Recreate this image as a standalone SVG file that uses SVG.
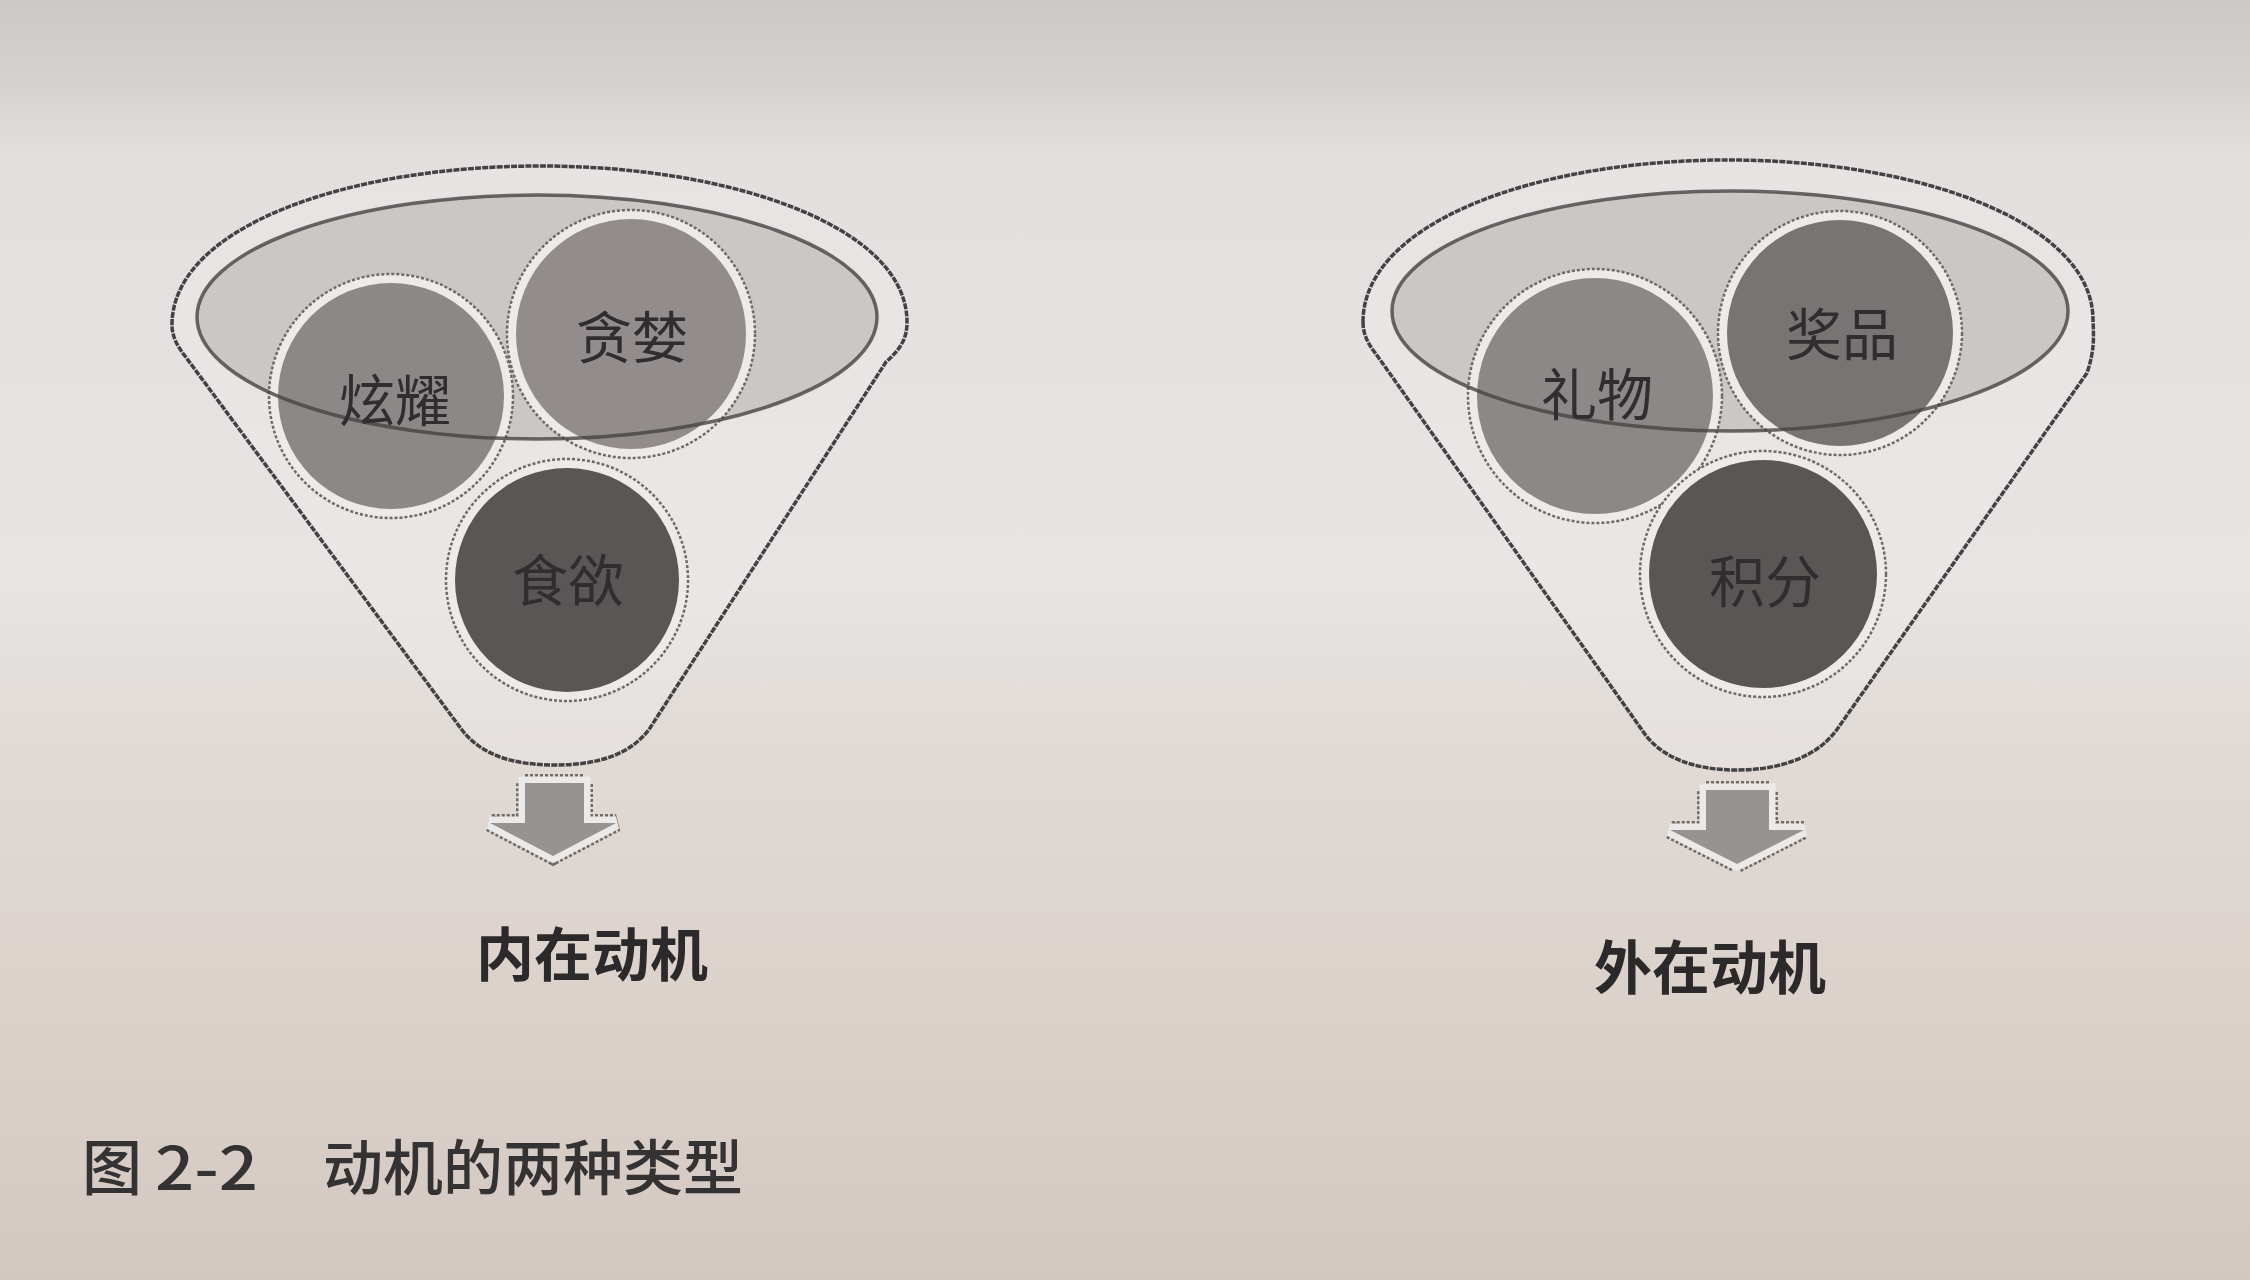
<svg xmlns="http://www.w3.org/2000/svg" width="2250" height="1280" viewBox="0 0 2250 1280">
  <defs>
    <linearGradient id="paper" x1="0" y1="0" x2="0" y2="1">
      <stop offset="0" stop-color="#cbc9c8"/>
      <stop offset="0.07" stop-color="#d5d3d2"/>
      <stop offset="0.12" stop-color="#e2e0de"/>
      <stop offset="0.45" stop-color="#e7e5e3"/>
      <stop offset="0.6" stop-color="#e0d9d4"/>
      <stop offset="0.8" stop-color="#dbd1cb"/>
      <stop offset="1" stop-color="#d3c8c1"/>
    </linearGradient>
    <style>
      .funnel { fill: #eeecea; fill-opacity: 0.4; stroke: #434141; stroke-width: 3.5; stroke-dasharray: 6 1.2; }
      .ell-fill { fill: #cac7c5; stroke: none; }
      .ell-line { fill: none; stroke: #464444; stroke-width: 3.5; stroke-opacity: 0.8; }
      .halo { fill: #edebe9; stroke: #6e6a6a; stroke-width: 2.5; stroke-dasharray: 3 2; }
      .c1 { fill: #8c8887; }
      .c2 { fill: #928c8c; }
      .c3 { fill: #5a5656; }
      .c4 { fill: #787474; }
      .lbl { font-family: "Noto Sans CJK SC", "Noto Sans", sans-serif; fill: #2f2d2d; font-size: 56px; text-anchor: middle; }
      .title { font-family: "Noto Sans CJK SC", "Noto Sans", sans-serif; fill: #2b2929; font-size: 58px; font-weight: bold; text-anchor: middle; }
      .cap { font-family: "Noto Sans CJK SC", "Noto Sans", sans-serif; fill: #343232; font-size: 60px; font-weight: 500; }
      .arr-edge { fill: none; stroke: #706c6c; stroke-width: 18; stroke-dasharray: 3 2; stroke-linejoin: miter; }
      .arr-gap { fill: none; stroke: #eceae8; stroke-width: 13; stroke-linejoin: miter; }
      .arr-fill { fill: #979393; stroke: none; }
    </style>
  </defs>

  <rect x="0" y="0" width="2250" height="1280" fill="url(#paper)"/>

  <!-- Left funnel: 内在动机 -->
  <g id="funnel-intrinsic">
    <path class="funnel" d="M 172,325 C 172,228 345,166 540,166 C 735,166 907,228 907,322 C 907,336 903,347 886,362 L 650,728 C 630,756 595,765 555,765 C 515,765 482,756 462,730 L 185,356 C 177,346 172,336 172,325 Z"/>
    <ellipse class="ell-fill" cx="537" cy="317" rx="340" ry="122"/>
  </g>
  <g id="node-xuanyao">
    <circle class="halo" cx="391" cy="396" r="122"/>
    <circle class="c1" cx="391" cy="396" r="113"/>
  </g>
  <g id="node-tanlan">
    <circle class="halo" cx="631" cy="334" r="124"/>
    <circle class="c2" cx="631" cy="334" r="115"/>
  </g>
  <g id="node-shiyu">
    <circle class="halo" cx="567" cy="580" r="121"/>
    <circle class="c3" cx="567" cy="580" r="112"/>
  </g>
  <ellipse class="ell-line" cx="537" cy="317" rx="340" ry="122"/>
  <text class="lbl" x="395" y="421">炫耀</text>
  <text class="lbl" x="632" y="358">贪婪</text>
  <text class="lbl" x="568" y="601">食欲</text>

  <!-- Right funnel: 外在动机 -->
  <g id="funnel-extrinsic">
    <path class="funnel" d="M 1363,322 C 1363,224 1533,160 1728,160 C 1923,160 2093,224 2093,320 C 2094,340 2094,352 2087,373 L 1838,728 C 1818,757 1780,770 1737,770 C 1695,770 1660,758 1642,730 L 1376,354 C 1368,344 1363,334 1363,322 Z"/>
    <ellipse class="ell-fill" cx="1730" cy="311" rx="338" ry="120"/>
  </g>
  <g id="node-liwu">
    <circle class="halo" cx="1595" cy="396" r="127"/>
    <circle class="c1" cx="1595" cy="396" r="118"/>
  </g>
  <g id="node-jiangpin">
    <circle class="halo" cx="1840" cy="333" r="122"/>
    <circle class="c4" cx="1840" cy="333" r="113"/>
  </g>
  <g id="node-jifen">
    <circle class="halo" cx="1763" cy="574" r="123"/>
    <circle class="c3" cx="1763" cy="574" r="114"/>
  </g>
  <ellipse class="ell-line" cx="1730" cy="311" rx="338" ry="120"/>
  <text class="lbl" x="1597" y="415">礼物</text>
  <text class="lbl" x="1842" y="355">奖品</text>
  <text class="lbl" x="1765" y="602">积分</text>

  <!-- Connectors: block arrows -->
  <g id="connectors">
    <g id="arrow-left">
      <polygon class="arr-edge" points="525,783 584,783 584,823 616,823 553,856 490,823 525,823"/>
      <polygon class="arr-gap" points="525,783 584,783 584,823 616,823 553,856 490,823 525,823"/>
      <polygon class="arr-fill" points="525,783 584,783 584,823 616,823 553,856 490,823 525,823"/>
    </g>
    <g id="arrow-right">
      <polygon class="arr-edge" points="1706,790 1769,790 1769,830 1804,830 1737,864 1670,830 1706,830"/>
      <polygon class="arr-gap" points="1706,790 1769,790 1769,830 1804,830 1737,864 1670,830 1706,830"/>
      <polygon class="arr-fill" points="1706,790 1769,790 1769,830 1804,830 1737,864 1670,830 1706,830"/>
    </g>
  </g>

  <!-- Output labels -->
  <g id="label-intrinsic"><text class="title" x="592" y="976">内在动机</text></g>
  <g id="label-extrinsic"><text class="title" x="1710" y="989">外在动机</text></g>

  <!-- Caption -->
  <g id="caption">
    <text class="cap" x="82" y="1190">图 <tspan x="155" textLength="103" lengthAdjust="spacingAndGlyphs">2-2</tspan></text>
    <text class="cap" x="323" y="1190">动机的两种类型</text>
  </g>
</svg>
